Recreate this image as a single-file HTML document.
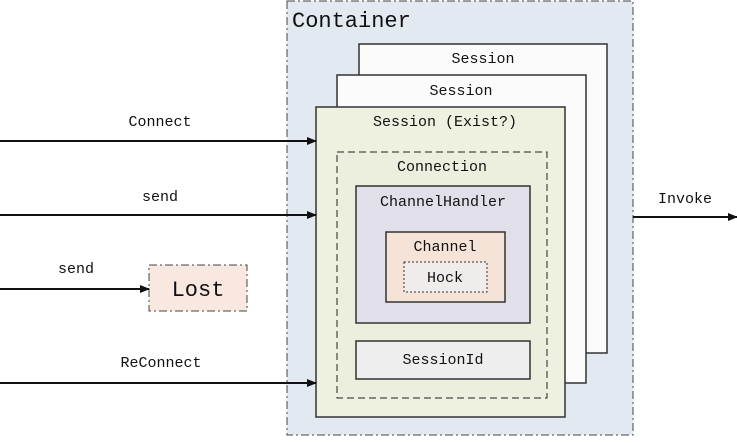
<!DOCTYPE html>
<html><head><style>html,body{margin:0;padding:0;background:#fff}</style></head><body>
<svg width="737" height="439" viewBox="0 0 737 439" xmlns="http://www.w3.org/2000/svg" font-family="Liberation Mono, monospace">
<defs>
<marker id="a" markerWidth="10" markerHeight="8" refX="9" refY="4" orient="auto" markerUnits="userSpaceOnUse">
<path d="M0,0 L10,4 L0,8 Z" fill="#111"/></marker>
</defs>
<rect x="287" y="1" width="346" height="434" fill="#e3e9f1" stroke="#444" stroke-dasharray="8,3,2,3"/>
<text x="292" y="27" font-size="22" fill="#111">Container</text>
<rect x="359" y="44" width="248" height="309" fill="#fbfbfb" stroke="#333" stroke-width="1.5"/>
<text x="483" y="63" font-size="15" text-anchor="middle" fill="#111">Session</text>
<rect x="337" y="75" width="249" height="308" fill="#fbfbfb" stroke="#333" stroke-width="1.5"/>
<text x="461" y="95" font-size="15" text-anchor="middle" fill="#111">Session</text>
<rect x="316" y="107" width="249" height="310" fill="#eef0e0" stroke="#333" stroke-width="1.5"/>
<text x="445" y="126" font-size="15" text-anchor="middle" fill="#111">Session (Exist?)</text>
<rect x="337" y="152" width="210" height="246" fill="#ecefde" stroke="#222" stroke-dasharray="7,4"/>
<text x="442" y="171" font-size="15" text-anchor="middle" fill="#111">Connection</text>
<rect x="356" y="186" width="174" height="137" fill="#e1e0ea" stroke="#333" stroke-width="1.5"/>
<text x="443" y="206" font-size="15" text-anchor="middle" fill="#111">ChannelHandler</text>
<rect x="386" y="232" width="119" height="70" fill="#f5e3d8" stroke="#333" stroke-width="1.5"/>
<text x="445" y="251" font-size="15" text-anchor="middle" fill="#111">Channel</text>
<rect x="404" y="262" width="83" height="30" fill="#f1ecec" stroke="#333" stroke-dasharray="2,2"/>
<text x="445" y="282" font-size="15" text-anchor="middle" fill="#111">Hock</text>
<rect x="356" y="341" width="174" height="38" fill="#eeeeee" stroke="#333" stroke-width="1.5"/>
<text x="443" y="364" font-size="15" text-anchor="middle" fill="#111">SessionId</text>
<rect x="149" y="265" width="98" height="46" fill="#f8e8e0" stroke="#444" stroke-dasharray="8,3,2,3"/>
<text x="198" y="296" font-size="22" text-anchor="middle" fill="#111">Lost</text>
<g stroke="#111" stroke-width="2" marker-end="url(#a)">
<line x1="0" y1="141" x2="316" y2="141"/>
<line x1="0" y1="215" x2="316" y2="215"/>
<line x1="0" y1="289" x2="149" y2="289"/>
<line x1="0" y1="383" x2="316" y2="383"/>
<line x1="633" y1="217" x2="737" y2="217"/>
</g>
<g font-size="15" fill="#111" text-anchor="middle">
<text x="160" y="126">Connect</text>
<text x="160" y="201">send</text>
<text x="76" y="273">send</text>
<text x="161" y="367">ReConnect</text>
<text x="685" y="203">Invoke</text>
</g>
</svg>
</body></html>
